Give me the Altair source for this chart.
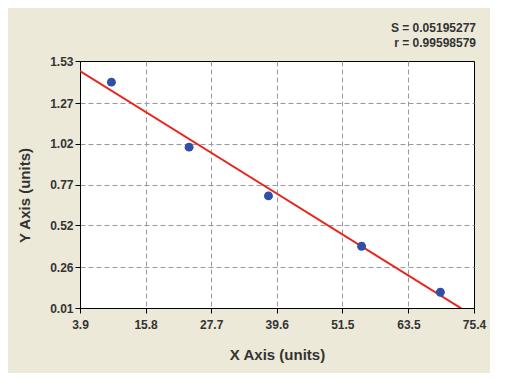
import altair as alt
import pandas as pd

# ---- data ----
x_vals = [9.6, 23.7, 38.1, 55.0, 69.3]
y_vals = [1.40, 1.00, 0.70, 0.39, 0.107]
fit_x = [3.9, 73.3]
fit_y = [1.468, 0.003]
x_ticks = [3.9, 15.8, 27.7, 39.6, 51.5, 63.5, 75.4]
y_ticks = [0.01, 0.26, 0.52, 0.77, 1.02, 1.27, 1.53]
stats_lines = ["S = 0.05195277", "r = 0.99598579"]
x_title = "X Axis (units)"
y_title = "Y Axis (units)"


def with_minor(major, n=4):
    out = []
    for a, b in zip(major[:-1], major[1:]):
        for k in range(n):
            out.append(round(a + (b - a) * k / n, 6))
    out.append(major[-1])
    return out


pts = pd.DataFrame({"x": x_vals, "y": y_vals})
fit = pd.DataFrame({"x": fit_x, "y": fit_y})

FONT = "Liberation Sans"
TXT = "#333333"


def axis(major, fmt, title, **kw):
    test = f"indexof({major}, datum.value) >= 0"
    inner = f"indexof({major[1:-1]}, datum.value) >= 0"
    return alt.Axis(
        values=with_minor(major),
        format=fmt,
        labelExpr=f"{test} ? datum.label : ''",
        tickSize={"condition": {"test": test, "value": 5}, "value": 4},
        gridOpacity={"condition": {"test": inner, "value": 1}, "value": 0},
        grid=True,
        gridDash=[5, 3],
        gridColor="#9a9a9a",
        gridWidth=1,
        domainColor="black",
        tickColor="black",
        labelFont=FONT,
        labelFontWeight="bold",
        labelFontSize=12,
        labelColor=TXT,
        labelOverlap=False,
        labelFlush=False,
        title=title,
        titleFont=FONT,
        titleFontSize=15,
        titleFontWeight="bold",
        titleColor=TXT,
        **kw,
    )


xs = alt.Scale(domain=[3.9, 75.4], nice=False, zero=False)
ys = alt.Scale(domain=[0.01, 1.53], nice=False, zero=False)

xax = axis(x_ticks, ".1f", x_title, titleX=197, titleY=46, titleBaseline="middle", labelPadding=6)
yax = axis(y_ticks, ".2f", y_title, titleX=-56, titleY=134, titleBaseline="middle",
           titleAngle=-90, titleAlign="center", labelPadding=2)

line = alt.Chart(fit).mark_line(color="#E8261E", strokeWidth=2, clip=True).encode(
    x=alt.X("x:Q", scale=xs, axis=xax),
    y=alt.Y("y:Q", scale=ys, axis=yax),
)

points = alt.Chart(pts).mark_point(
    filled=True, shape="circle", size=80, color="#2F4FA8", opacity=1
).encode(
    x=alt.X("x:Q", scale=xs),
    y=alt.Y("y:Q", scale=ys),
)

chart = (
    alt.layer(line, points)
    .properties(
        width=394,
        height=247,
        autosize="none",
        padding={"left": 72, "top": 53, "right": 16, "bottom": 65},
        background="#ECE9D8",
        title=alt.TitleParams(
            text=stats_lines,
            anchor="end",
            frame="group",
            font=FONT,
            fontSize=12,
            fontWeight="bold",
            color=TXT,
            lineHeight=15,
            offset=5,
            dx=2,
        ),
    )
    .configure_view(stroke="black", strokeWidth=1, fill="white")
)

chart.save("out.html", embed_options={"renderer": "svg", "actions": False})
